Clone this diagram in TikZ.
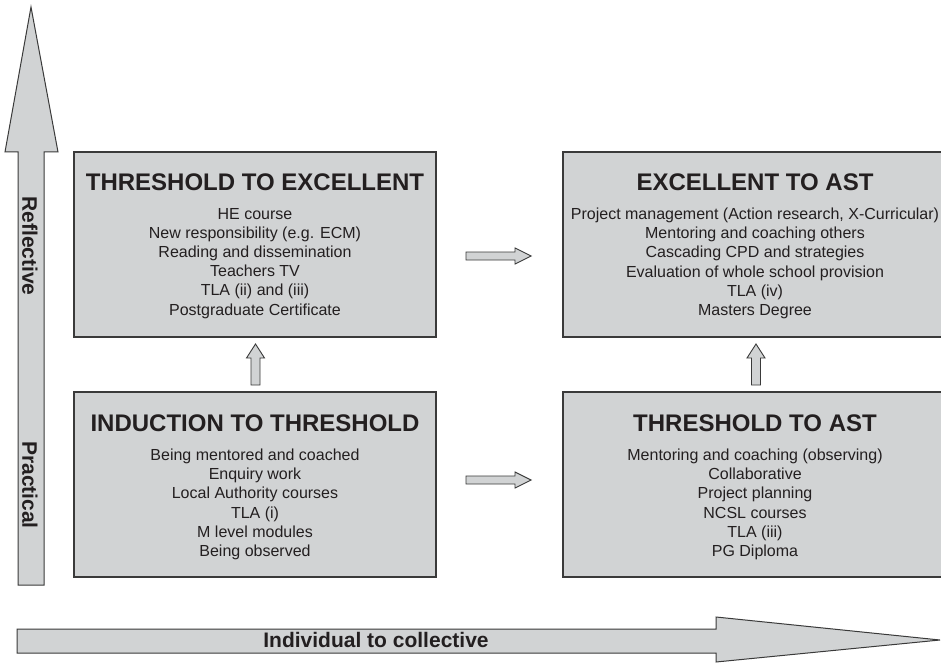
\documentclass[tikz,border=0pt]{standalone}
\usepackage{fontspec}
\setmainfont{Liberation Sans}
\usetikzlibrary{calc}
\definecolor{panel}{HTML}{D1D3D4}
\definecolor{edge}{HTML}{3A3A3A}
\definecolor{ink}{HTML}{231F20}
\begin{document}
\begin{tikzpicture}[x=1pt,y=-1pt,
  stagebox/.style={draw=edge, line width=1.3pt, fill=panel, minimum width=362pt, minimum height=185pt, inner sep=0pt},
  stagetitle/.style={font=\fontsize{24}{28}\selectfont\bfseries, text=ink, inner sep=0pt},
  stagebody/.style={font=\fontsize{16}{19.2}\selectfont, text=ink, align=center, inner sep=0pt},
  smallarrow/.style={draw=edge, fill=panel, line width=0.9pt, line join=miter},
  bigarrow/.style={draw=edge, fill=panel, line width=1pt, line join=miter},
  biglabel/.style={font=\fontsize{21}{25}\selectfont\bfseries, text=ink, inner sep=0pt},
  harrowpic/.pic={\draw[smallarrow] (-32.5,-4) -- (16.5,-4) -- (16.5,-8) -- (32.5,0) -- (16.5,8) -- (16.5,4) -- (-32.5,4) -- cycle;},
  varrowpic/.pic={\draw[smallarrow] (-4.5,20.5) -- (-4.5,-6.5) -- (-9,-6.5) -- (0,-20.5) -- (9,-6.5) -- (4.5,-6.5) -- (4.5,20.5) -- cycle;}]
\useasboundingbox (0,0) rectangle (941,663);
\fill[white] (0,0) rectangle (941,663);

% big axis arrows
\draw[bigarrow] (18,585) -- (18,152) -- (5,152) -- (31,7) -- (58,152) -- (44,152) -- (44,585) -- cycle;
\draw[bigarrow] (17,629) -- (716,629) -- (716,617) -- (940,640) -- (716,662) -- (716,653) -- (17,653) -- cycle;
\node[biglabel, rotate=-90] (refl) at (30,246) {Reflective};
\node[biglabel, rotate=-90] (prac) at (30,485) {Practical};
\node[biglabel] (indiv) at (376,640) {Individual to collective};

% stage boxes
\node[stagebox] (tl) at (255,244.5) {};
\node[stagebox] (bl) at (255,484.5) {};
\node[stagebox, minimum width=384pt] (tr) at (755,244.5) {};
\node[stagebox, minimum width=384pt] (br) at (755,484.5) {};

\node[stagetitle] (tlT) at ($(tl.north)+(0,31)$) {THRESHOLD TO EXCELLENT};
\node[stagebody] (tlB) at ($(tl.north)+(0,112)$) {HE course\\New responsibility (e.g. ECM)\\Reading and dissemination\\Teachers TV\\TLA (ii) and (iii)\\Postgraduate Certificate};

\node[stagetitle] (trT) at ($(tr.north)+(0,31)$) {EXCELLENT TO AST};
\node[stagebody] (trB) at ($(tr.north)+(0,112)$) {Project management (Action research, X-Curricular)\\Mentoring and coaching others\\Cascading CPD and strategies\\Evaluation of whole school provision\\TLA (iv)\\Masters Degree};

\node[stagetitle] (blT) at ($(bl.north)+(0,32)$) {INDUCTION TO THRESHOLD};
\node[stagebody] (blB) at ($(bl.north)+(0,113)$) {Being mentored and coached\\Enquiry work\\Local Authority courses\\TLA (i)\\M level modules\\Being observed};

\node[stagetitle] (brT) at ($(br.north)+(0,32)$) {THRESHOLD TO AST};
\node[stagebody] (brB) at ($(br.north)+(0,113)$) {Mentoring and coaching (observing)\\Collaborative\\Project planning\\NCSL courses\\TLA (iii)\\PG Diploma};

% small connecting arrows, placed between the named boxes
\coordinate (c1) at ($(tl.east)!0.5!(tr.west)+(-1,11.5)$);
\coordinate (c2) at ($(bl.east)!0.5!(br.west)+(-1,-4.5)$);
\coordinate (c3) at ($(bl.north)!0.5!(tl.south)+(0.5,0)$);
\coordinate (c4) at ($(br.north)!0.5!(tr.south)+(1,0)$);
\pic at (c1) {harrowpic};
\pic at (c2) {harrowpic};
\pic at (c3) {varrowpic};
\pic at (c4) {varrowpic};
\end{tikzpicture}
\end{document}
